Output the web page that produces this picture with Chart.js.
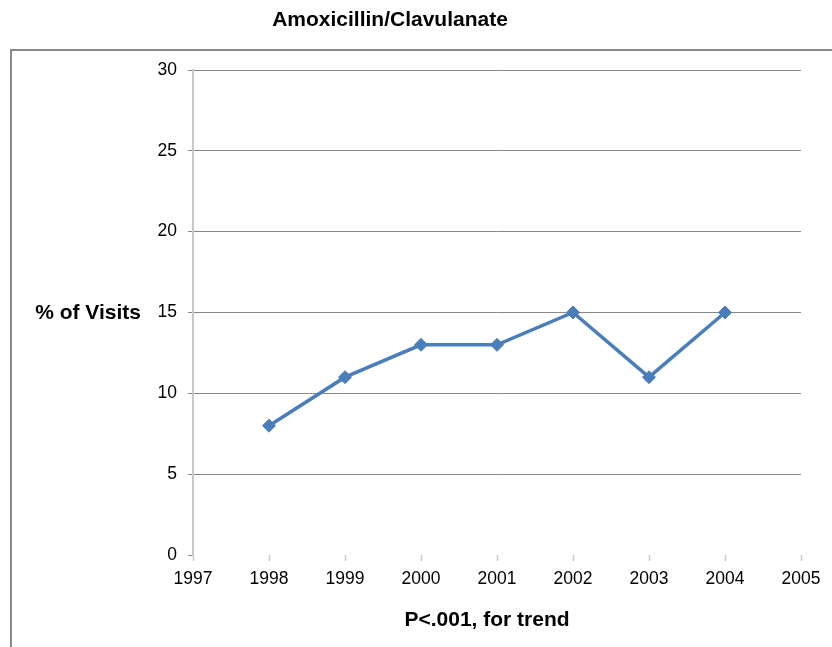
<!DOCTYPE html>
<html>
<head>
<meta charset="utf-8">
<script src="https://cdn.jsdelivr.net/npm/chart.js@4"></script>
<style>
  html, body { margin: 0; padding: 0; background: #fff; }
  #wrap { width: 832px; height: 647px; position: relative; }
</style>
</head>
<body>
<div id="wrap"><canvas id="c" width="832" height="647"></canvas></div>
<script>
const chartTitle = "Amoxicillin/Clavulanate";
const yLabel = "% of Visits";
const xLabel = "P<.001, for trend";
const years = [1998, 1999, 2000, 2001, 2002, 2003, 2004];
const visitsPct = [8, 11, 13, 13, 15, 11, 15];
const xMin = 1997, xMax = 2005;
const yMin = 0, yMax = 30, yStep = 5;

const FONT = "'Liberation Sans', Arial, sans-serif";

const decor = {
  id: 'decor',
  beforeDraw(chart) {
    const ctx = chart.ctx;
    ctx.save();
    ctx.fillStyle = '#fff';
    ctx.fillRect(0, 0, chart.width, chart.height);
    ctx.strokeStyle = '#888';
    ctx.lineWidth = 2;
    ctx.strokeRect(11, 50, 900, 700);
    ctx.restore();
  },
  afterDraw(chart) {
    const ctx = chart.ctx;
    ctx.save();
    ctx.fillStyle = '#000';
    ctx.textBaseline = 'middle';
    ctx.font = 'bold 21px ' + FONT;
    ctx.textAlign = 'center';
    ctx.fillText(chartTitle, 390, 20);
    ctx.textAlign = 'right';
    ctx.fillText(yLabel, 141, chart.scales.y.getPixelForValue(15) + 1);
    ctx.font = 'bold 21px ' + FONT;
    ctx.textAlign = 'center';
    ctx.fillText(xLabel, 487, 620);
    ctx.restore();
  }
};

new Chart(document.getElementById('c'), {
  type: 'line',
  data: {
    datasets: [{
      data: years.map((y, i) => ({ x: y, y: visitsPct[i] })),
      borderColor: '#4a7ebb',
      backgroundColor: '#4a7ebb',
      borderWidth: 3.5,
      pointStyle: 'rectRot',
      pointRadius: 6.5,
      pointBorderWidth: 1,
      tension: 0
    }]
  },
  options: {
    responsive: false,
    animation: false,
    layout: { padding: { left: 0, top: 70, right: 31, bottom: 0 } },
    plugins: { legend: { display: false }, tooltip: { enabled: false } },
    scales: {
      x: {
        type: 'linear', min: xMin, max: xMax,
        afterFit(s) { s.height = 92; },
        ticks: { stepSize: 1, color: '#000', padding: 8, font: { family: FONT, size: 17.5 },
                 callback: v => String(v) },
        grid: { drawOnChartArea: false, drawTicks: true, tickLength: 6, tickColor: '#c8c8c8', tickWidth: 1.5 },
        border: { display: false }
      },
      y: {
        min: yMin, max: yMax,
        afterFit(s) { s.width = 193; },
        ticks: { stepSize: yStep, color: '#000', padding: 11, font: { family: FONT, size: 17.5 } },
        grid: { color: c => (c.tick && c.tick.value === 0) ? 'rgba(0,0,0,0)' : '#888', lineWidth: 1,
                tickLength: 5, tickColor: '#888' },
        border: { color: '#c8c8c8', width: 2 }
      }
    }
  },
  plugins: [decor]
});
</script>
</body>
</html>
